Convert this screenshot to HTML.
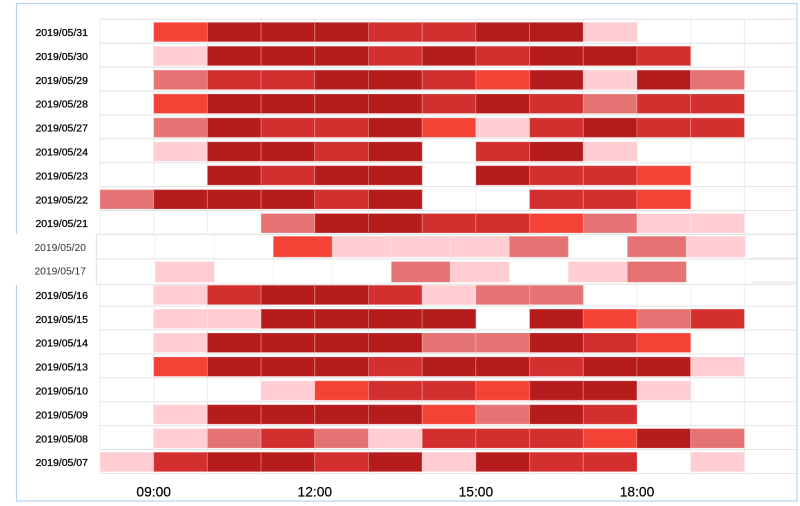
<!DOCTYPE html>
<html>
<head>
<meta charset="utf-8">
<style>
html,body{margin:0;padding:0;background:#fff;}
svg{display:block;}
.D{fill:#b71c1c}
.R{fill:#d32f2f}
.O{fill:#f44336}
.M{fill:#e57373}
.P{fill:#ffcdd2}
.cells rect{stroke:rgba(255,255,255,0.22);stroke-width:1;}
.lab{font-family:"Liberation Sans",Arial,sans-serif;font-size:10.5px;fill:#000;stroke:#000;stroke-width:0.25px;text-anchor:end;}
.lab2{font-family:"Liberation Sans",Arial,sans-serif;font-size:10.3px;fill:#333;text-anchor:end;}
.xl{font-family:"Liberation Sans",Arial,sans-serif;font-size:13.8px;fill:#000;stroke:#000;stroke-width:0.2px;text-anchor:middle;}
</style>
</head>
<body>
<svg width="800" height="506" viewBox="0 0 800 506" xmlns="http://www.w3.org/2000/svg">
<rect x="0" y="0" width="800" height="506" fill="#fff"/>
<rect x="16.5" y="3.5" width="780.5" height="497.5" fill="none" stroke="#b5d3ef" stroke-width="1.2"/>

<g stroke="#e3e3e3" stroke-width="1">
<line x1="100" y1="19.3" x2="796" y2="19.3"/>
<line x1="100" y1="43.2" x2="796" y2="43.2"/>
<line x1="100" y1="67.1" x2="796" y2="67.1"/>
<line x1="100" y1="91.0" x2="796" y2="91.0"/>
<line x1="100" y1="114.9" x2="796" y2="114.9"/>
<line x1="100" y1="138.8" x2="796" y2="138.8"/>
<line x1="100" y1="162.7" x2="796" y2="162.7"/>
<line x1="100" y1="186.6" x2="796" y2="186.6"/>
<line x1="100" y1="210.5" x2="796" y2="210.5"/>
<line x1="100" y1="234.4" x2="796" y2="234.4"/>
<line x1="100" y1="258.3" x2="796" y2="258.3"/>
<line x1="100" y1="282.2" x2="796" y2="282.2"/>
<line x1="100" y1="306.1" x2="796" y2="306.1"/>
<line x1="100" y1="330.0" x2="796" y2="330.0"/>
<line x1="100" y1="353.9" x2="796" y2="353.9"/>
<line x1="100" y1="377.8" x2="796" y2="377.8"/>
<line x1="100" y1="401.7" x2="796" y2="401.7"/>
<line x1="100" y1="425.6" x2="796" y2="425.6"/>
<line x1="100" y1="449.5" x2="796" y2="449.5"/>
<line x1="100" y1="473.4" x2="796" y2="473.4"/>
</g>
<g stroke="#ececec" stroke-width="1">
<line x1="100" y1="19.3" x2="100" y2="473.4"/>
<line x1="153.7" y1="19.3" x2="153.7" y2="473.4"/>
<line x1="207.4" y1="19.3" x2="207.4" y2="473.4"/>
<line x1="261.1" y1="19.3" x2="261.1" y2="473.4"/>
<line x1="314.8" y1="19.3" x2="314.8" y2="473.4"/>
<line x1="368.5" y1="19.3" x2="368.5" y2="473.4"/>
<line x1="422.2" y1="19.3" x2="422.2" y2="473.4"/>
<line x1="475.9" y1="19.3" x2="475.9" y2="473.4"/>
<line x1="529.6" y1="19.3" x2="529.6" y2="473.4"/>
<line x1="583.3" y1="19.3" x2="583.3" y2="473.4"/>
<line x1="637" y1="19.3" x2="637" y2="473.4"/>
<line x1="690.7" y1="19.3" x2="690.7" y2="473.4"/>
<line x1="744.4" y1="19.3" x2="744.4" y2="473.4"/>
</g>

<g class="cells">
<g transform="translate(0,22.3)">
<rect x="153.7" width="53.7" height="19.5" class="O"/>
<rect x="207.4" width="53.7" height="19.5" class="D"/>
<rect x="261.1" width="53.7" height="19.5" class="D"/>
<rect x="314.8" width="53.7" height="19.5" class="D"/>
<rect x="368.5" width="53.7" height="19.5" class="R"/>
<rect x="422.2" width="53.7" height="19.5" class="R"/>
<rect x="475.9" width="53.7" height="19.5" class="D"/>
<rect x="529.6" width="53.7" height="19.5" class="D"/>
<rect x="583.3" width="53.7" height="19.5" class="P"/>
</g>
<g transform="translate(0,46.2)">
<rect x="153.7" width="53.7" height="19.5" class="P"/>
<rect x="207.4" width="53.7" height="19.5" class="D"/>
<rect x="261.1" width="53.7" height="19.5" class="D"/>
<rect x="314.8" width="53.7" height="19.5" class="D"/>
<rect x="368.5" width="53.7" height="19.5" class="R"/>
<rect x="422.2" width="53.7" height="19.5" class="D"/>
<rect x="475.9" width="53.7" height="19.5" class="R"/>
<rect x="529.6" width="53.7" height="19.5" class="D"/>
<rect x="583.3" width="53.7" height="19.5" class="D"/>
<rect x="637" width="53.7" height="19.5" class="R"/>
</g>
<g transform="translate(0,70.1)">
<rect x="153.7" width="53.7" height="19.5" class="M"/>
<rect x="207.4" width="53.7" height="19.5" class="R"/>
<rect x="261.1" width="53.7" height="19.5" class="R"/>
<rect x="314.8" width="53.7" height="19.5" class="D"/>
<rect x="368.5" width="53.7" height="19.5" class="D"/>
<rect x="422.2" width="53.7" height="19.5" class="R"/>
<rect x="475.9" width="53.7" height="19.5" class="O"/>
<rect x="529.6" width="53.7" height="19.5" class="D"/>
<rect x="583.3" width="53.7" height="19.5" class="P"/>
<rect x="637" width="53.7" height="19.5" class="D"/>
<rect x="690.7" width="53.7" height="19.5" class="M"/>
</g>
<g transform="translate(0,94.0)">
<rect x="153.7" width="53.7" height="19.5" class="O"/>
<rect x="207.4" width="53.7" height="19.5" class="D"/>
<rect x="261.1" width="53.7" height="19.5" class="D"/>
<rect x="314.8" width="53.7" height="19.5" class="D"/>
<rect x="368.5" width="53.7" height="19.5" class="D"/>
<rect x="422.2" width="53.7" height="19.5" class="R"/>
<rect x="475.9" width="53.7" height="19.5" class="D"/>
<rect x="529.6" width="53.7" height="19.5" class="R"/>
<rect x="583.3" width="53.7" height="19.5" class="M"/>
<rect x="637" width="53.7" height="19.5" class="R"/>
<rect x="690.7" width="53.7" height="19.5" class="R"/>
</g>
<g transform="translate(0,117.9)">
<rect x="153.7" width="53.7" height="19.5" class="M"/>
<rect x="207.4" width="53.7" height="19.5" class="D"/>
<rect x="261.1" width="53.7" height="19.5" class="R"/>
<rect x="314.8" width="53.7" height="19.5" class="R"/>
<rect x="368.5" width="53.7" height="19.5" class="D"/>
<rect x="422.2" width="53.7" height="19.5" class="O"/>
<rect x="475.9" width="53.7" height="19.5" class="P"/>
<rect x="529.6" width="53.7" height="19.5" class="R"/>
<rect x="583.3" width="53.7" height="19.5" class="D"/>
<rect x="637" width="53.7" height="19.5" class="R"/>
<rect x="690.7" width="53.7" height="19.5" class="R"/>
</g>
<g transform="translate(0,141.8)">
<rect x="153.7" width="53.7" height="19.5" class="P"/>
<rect x="207.4" width="53.7" height="19.5" class="D"/>
<rect x="261.1" width="53.7" height="19.5" class="D"/>
<rect x="314.8" width="53.7" height="19.5" class="R"/>
<rect x="368.5" width="53.7" height="19.5" class="D"/>
<rect x="475.9" width="53.7" height="19.5" class="R"/>
<rect x="529.6" width="53.7" height="19.5" class="D"/>
<rect x="583.3" width="53.7" height="19.5" class="P"/>
</g>
<g transform="translate(0,165.7)">
<rect x="207.4" width="53.7" height="19.5" class="D"/>
<rect x="261.1" width="53.7" height="19.5" class="R"/>
<rect x="314.8" width="53.7" height="19.5" class="D"/>
<rect x="368.5" width="53.7" height="19.5" class="D"/>
<rect x="475.9" width="53.7" height="19.5" class="D"/>
<rect x="529.6" width="53.7" height="19.5" class="R"/>
<rect x="583.3" width="53.7" height="19.5" class="R"/>
<rect x="637" width="53.7" height="19.5" class="O"/>
</g>
<g transform="translate(0,189.6)">
<rect x="100" width="53.7" height="19.5" class="M"/>
<rect x="153.7" width="53.7" height="19.5" class="D"/>
<rect x="207.4" width="53.7" height="19.5" class="D"/>
<rect x="261.1" width="53.7" height="19.5" class="D"/>
<rect x="314.8" width="53.7" height="19.5" class="R"/>
<rect x="368.5" width="53.7" height="19.5" class="D"/>
<rect x="529.6" width="53.7" height="19.5" class="R"/>
<rect x="583.3" width="53.7" height="19.5" class="R"/>
<rect x="637" width="53.7" height="19.5" class="O"/>
</g>
<g transform="translate(0,213.5)">
<rect x="261.1" width="53.7" height="19.5" class="M"/>
<rect x="314.8" width="53.7" height="19.5" class="D"/>
<rect x="368.5" width="53.7" height="19.5" class="D"/>
<rect x="422.2" width="53.7" height="19.5" class="R"/>
<rect x="475.9" width="53.7" height="19.5" class="R"/>
<rect x="529.6" width="53.7" height="19.5" class="O"/>
<rect x="583.3" width="53.7" height="19.5" class="M"/>
<rect x="637" width="53.7" height="19.5" class="P"/>
<rect x="690.7" width="53.7" height="19.5" class="P"/>
</g>
<g transform="translate(0,285.2)">
<rect x="153.7" width="53.7" height="19.5" class="P"/>
<rect x="207.4" width="53.7" height="19.5" class="R"/>
<rect x="261.1" width="53.7" height="19.5" class="D"/>
<rect x="314.8" width="53.7" height="19.5" class="D"/>
<rect x="368.5" width="53.7" height="19.5" class="R"/>
<rect x="422.2" width="53.7" height="19.5" class="P"/>
<rect x="475.9" width="53.7" height="19.5" class="M"/>
<rect x="529.6" width="53.7" height="19.5" class="M"/>
</g>
<g transform="translate(0,309.1)">
<rect x="153.7" width="53.7" height="19.5" class="P"/>
<rect x="207.4" width="53.7" height="19.5" class="P"/>
<rect x="261.1" width="53.7" height="19.5" class="D"/>
<rect x="314.8" width="53.7" height="19.5" class="D"/>
<rect x="368.5" width="53.7" height="19.5" class="D"/>
<rect x="422.2" width="53.7" height="19.5" class="D"/>
<rect x="529.6" width="53.7" height="19.5" class="D"/>
<rect x="583.3" width="53.7" height="19.5" class="O"/>
<rect x="637" width="53.7" height="19.5" class="M"/>
<rect x="690.7" width="53.7" height="19.5" class="R"/>
</g>
<g transform="translate(0,333.0)">
<rect x="153.7" width="53.7" height="19.5" class="P"/>
<rect x="207.4" width="53.7" height="19.5" class="D"/>
<rect x="261.1" width="53.7" height="19.5" class="D"/>
<rect x="314.8" width="53.7" height="19.5" class="D"/>
<rect x="368.5" width="53.7" height="19.5" class="D"/>
<rect x="422.2" width="53.7" height="19.5" class="M"/>
<rect x="475.9" width="53.7" height="19.5" class="M"/>
<rect x="529.6" width="53.7" height="19.5" class="D"/>
<rect x="583.3" width="53.7" height="19.5" class="R"/>
<rect x="637" width="53.7" height="19.5" class="O"/>
</g>
<g transform="translate(0,356.9)">
<rect x="153.7" width="53.7" height="19.5" class="O"/>
<rect x="207.4" width="53.7" height="19.5" class="D"/>
<rect x="261.1" width="53.7" height="19.5" class="D"/>
<rect x="314.8" width="53.7" height="19.5" class="D"/>
<rect x="368.5" width="53.7" height="19.5" class="R"/>
<rect x="422.2" width="53.7" height="19.5" class="D"/>
<rect x="475.9" width="53.7" height="19.5" class="D"/>
<rect x="529.6" width="53.7" height="19.5" class="R"/>
<rect x="583.3" width="53.7" height="19.5" class="D"/>
<rect x="637" width="53.7" height="19.5" class="D"/>
<rect x="690.7" width="53.7" height="19.5" class="P"/>
</g>
<g transform="translate(0,380.8)">
<rect x="261.1" width="53.7" height="19.5" class="P"/>
<rect x="314.8" width="53.7" height="19.5" class="O"/>
<rect x="368.5" width="53.7" height="19.5" class="R"/>
<rect x="422.2" width="53.7" height="19.5" class="R"/>
<rect x="475.9" width="53.7" height="19.5" class="O"/>
<rect x="529.6" width="53.7" height="19.5" class="D"/>
<rect x="583.3" width="53.7" height="19.5" class="D"/>
<rect x="637" width="53.7" height="19.5" class="P"/>
</g>
<g transform="translate(0,404.7)">
<rect x="153.7" width="53.7" height="19.5" class="P"/>
<rect x="207.4" width="53.7" height="19.5" class="D"/>
<rect x="261.1" width="53.7" height="19.5" class="D"/>
<rect x="314.8" width="53.7" height="19.5" class="D"/>
<rect x="368.5" width="53.7" height="19.5" class="D"/>
<rect x="422.2" width="53.7" height="19.5" class="O"/>
<rect x="475.9" width="53.7" height="19.5" class="M"/>
<rect x="529.6" width="53.7" height="19.5" class="D"/>
<rect x="583.3" width="53.7" height="19.5" class="R"/>
</g>
<g transform="translate(0,428.6)">
<rect x="153.7" width="53.7" height="19.5" class="P"/>
<rect x="207.4" width="53.7" height="19.5" class="M"/>
<rect x="261.1" width="53.7" height="19.5" class="R"/>
<rect x="314.8" width="53.7" height="19.5" class="M"/>
<rect x="368.5" width="53.7" height="19.5" class="P"/>
<rect x="422.2" width="53.7" height="19.5" class="R"/>
<rect x="475.9" width="53.7" height="19.5" class="R"/>
<rect x="529.6" width="53.7" height="19.5" class="R"/>
<rect x="583.3" width="53.7" height="19.5" class="O"/>
<rect x="637" width="53.7" height="19.5" class="D"/>
<rect x="690.7" width="53.7" height="19.5" class="M"/>
</g>
<g transform="translate(0,452.2)">
<rect x="100" width="53.7" height="19.5" class="P"/>
<rect x="153.7" width="53.7" height="19.5" class="R"/>
<rect x="207.4" width="53.7" height="19.5" class="D"/>
<rect x="261.1" width="53.7" height="19.5" class="D"/>
<rect x="314.8" width="53.7" height="19.5" class="R"/>
<rect x="368.5" width="53.7" height="19.5" class="D"/>
<rect x="422.2" width="53.7" height="19.5" class="P"/>
<rect x="475.9" width="53.7" height="19.5" class="D"/>
<rect x="529.6" width="53.7" height="19.5" class="R"/>
<rect x="583.3" width="53.7" height="19.5" class="R"/>
<rect x="690.7" width="53.7" height="19.5" class="P"/>
</g>
</g>

<rect x="0" y="233.9" width="752" height="51" fill="#fff"/>
<g stroke="#e0e0e0" stroke-width="1">
<line x1="96.3" y1="234.4" x2="796" y2="234.4"/>
<line x1="96.3" y1="258.9" x2="796" y2="258.9"/>
<line x1="96.3" y1="284.2" x2="796" y2="284.2"/>
<line x1="96.3" y1="234.4" x2="96.3" y2="284.2"/>
</g>
<g stroke="#f2f2f2" stroke-width="1">
<line x1="155.3" y1="234.4" x2="155.3" y2="284.2"/>
<line x1="214.3" y1="234.4" x2="214.3" y2="284.2"/>
<line x1="273.3" y1="234.4" x2="273.3" y2="284.2"/>
<line x1="332.3" y1="234.4" x2="332.3" y2="284.2"/>
<line x1="391.3" y1="234.4" x2="391.3" y2="284.2"/>
<line x1="450.3" y1="234.4" x2="450.3" y2="284.2"/>
<line x1="509.3" y1="234.4" x2="509.3" y2="284.2"/>
<line x1="568.3" y1="234.4" x2="568.3" y2="284.2"/>
<line x1="627.3" y1="234.4" x2="627.3" y2="284.2"/>
<line x1="686.3" y1="234.4" x2="686.3" y2="284.2"/>
<line x1="745.3" y1="234.4" x2="745.3" y2="284.2"/>
</g>
<g class="cells">
<g transform="translate(0,236.2)">
<rect x="273.3" width="59" height="21" class="O"/>
<rect x="332.3" width="59" height="21" class="P"/>
<rect x="391.3" width="59" height="21" class="P"/>
<rect x="450.3" width="59" height="21" class="P"/>
<rect x="509.3" width="59" height="21" class="M"/>
<rect x="627.3" width="59" height="21" class="M"/>
<rect x="686.3" width="59" height="21" class="P"/>
</g>
<g transform="translate(0,261.5)">
<rect x="155.3" width="59" height="20.8" class="P"/>
<rect x="391.3" width="59" height="20.8" class="M"/>
<rect x="450.3" width="59" height="20.8" class="P"/>
<rect x="568.3" width="59" height="20.8" class="P"/>
<rect x="627.3" width="59" height="20.8" class="M"/>
</g>
</g>

<text class="lab" x="88" y="36">2019/05/31</text>
<text class="lab" x="88" y="59.9">2019/05/30</text>
<text class="lab" x="88" y="83.8">2019/05/29</text>
<text class="lab" x="88" y="107.7">2019/05/28</text>
<text class="lab" x="88" y="131.6">2019/05/27</text>
<text class="lab" x="88" y="155.5">2019/05/24</text>
<text class="lab" x="88" y="179.4">2019/05/23</text>
<text class="lab" x="88" y="203.3">2019/05/22</text>
<text class="lab" x="88" y="227.2">2019/05/21</text>
<text class="lab2" x="86" y="250.8">2019/05/20</text>
<text class="lab2" x="86" y="274.6">2019/05/17</text>
<text class="lab" x="88" y="298.9">2019/05/16</text>
<text class="lab" x="88" y="322.8">2019/05/15</text>
<text class="lab" x="88" y="346.7">2019/05/14</text>
<text class="lab" x="88" y="370.6">2019/05/13</text>
<text class="lab" x="88" y="394.5">2019/05/10</text>
<text class="lab" x="88" y="418.4">2019/05/09</text>
<text class="lab" x="88" y="442.3">2019/05/08</text>
<text class="lab" x="88" y="466.2">2019/05/07</text>

<text class="xl" x="153.7" y="496.5">09:00</text>
<text class="xl" x="314.8" y="496.5">12:00</text>
<text class="xl" x="475.9" y="496.5">15:00</text>
<text class="xl" x="637" y="496.5">18:00</text>
</svg>
</body>
</html>
